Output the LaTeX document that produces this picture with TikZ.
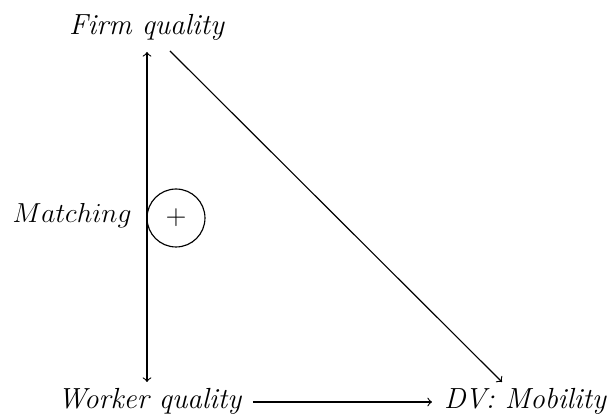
\documentclass[tikz,border=0pt]{standalone}
\begin{document}
\begin{tikzpicture}[x=0.4366pt,y=-0.4366pt,
  lbl/.style={inner sep=0pt, anchor=base, font=\fontsize{12.7}{15}\selectfont\itshape},
  mlbl/.style={inner sep=0pt, anchor=base, font=\fontsize{12.7}{15}\selectfont},
  line width=0.5pt]
\useasboundingbox (0,0) rectangle (611,419);
\node[lbl] (firm) at (146.5,35) {Firm quality};
\node[lbl] (worker) at (149.5,409) {Worker quality};
\node[lbl] (dv) at (525,409) {DV: Mobility};
\node[mlbl] (match) at (72,223) {$Matching$};
\node[circle, draw, minimum size=25.3pt, inner sep=0pt, font=\fontsize{12.7}{15}\selectfont] (plus) at (176,218) {$+$};
\coordinate (vtop) at (147,52);
\coordinate (vbot) at (147,382);
\coordinate (dstart) at (170,51);
\coordinate (dend) at (502,382);
\coordinate (hstart) at (253,402);
\coordinate (hend) at (432,402);
\draw[<->] (vtop) -- (vbot);
\draw[->] (dstart) -- (dend);
\draw[->] (hstart) -- (hend);
\end{tikzpicture}
\end{document}
